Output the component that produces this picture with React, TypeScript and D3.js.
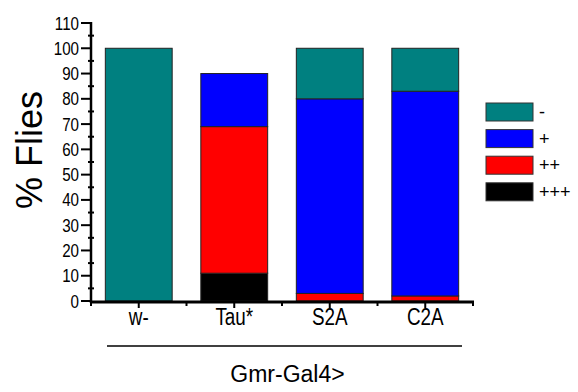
import * as d3 from "d3";
import { useEffect, useRef } from "react";

const categories = ["w-", "Tau*", "S2A", "C2A"];
const minus = [100, 0, 20, 17];
const plus = [0, 21, 77, 81];
const plus2 = [0, 58, 3, 2];
const plus3 = [0, 11, 0, 0];
const yTicks = [0, 10, 20, 30, 40, 50, 60, 70, 80, 90, 100, 110];

// legend order top -> bottom
const legendKeys = ["-", "+", "++", "+++"];
const colors: Record<string, string> = {
  "-": "#008080",
  "+": "#0000ff",
  "++": "#ff0000",
  "+++": "#000000",
};

const W = 578;
const H = 392;
const FONT = "'Liberation Sans', Arial, Helvetica, sans-serif";
const NARROW = 0.82;

const App = () => {
  const ref = useRef<SVGSVGElement | null>(null);

  useEffect(() => {
    const svg = d3.select(ref.current);
    svg.selectAll("*").remove();

    const rows = categories.map((c, i) => ({
      cat: c,
      "-": minus[i],
      "+": plus[i],
      "++": plus2[i],
      "+++": plus3[i],
    }));
    const stackKeys = ["+++", "++", "+", "-"];
    const series = d3.stack<any>().keys(stackKeys)(rows);

    const x = d3.scaleBand().domain(categories).range([91, 473])
      .paddingInner(0.3).paddingOuter(0.15);
    const y = d3.scaleLinear().domain([0, 110]).range([301, 23]);

    // bars
    series.forEach((s) => {
      svg.append("g")
        .selectAll("rect")
        .data(s.filter((d) => d[1] - d[0] > 0))
        .enter()
        .append("rect")
        .attr("x", (d) => x(d.data.cat)!)
        .attr("y", (d) => y(d[1]))
        .attr("width", x.bandwidth())
        .attr("height", (d) => y(d[0]) - y(d[1]))
        .attr("fill", colors[s.key])
        .attr("stroke", "#222")
        .attr("stroke-width", 1);
    });

    // y axis
    svg.append("line")
      .attr("x1", 91).attr("x2", 91)
      .attr("y1", y(110) - 1).attr("y2", y(0) + 2)
      .attr("stroke", "#000").attr("stroke-width", 2.5);
    d3.range(0, 111, 5).forEach((v) => {
      const major = v % 10 === 0;
      svg.append("line")
        .attr("x1", major ? 81 : 88).attr("x2", major ? 91 : 94)
        .attr("y1", y(v)).attr("y2", y(v))
        .attr("stroke", "#000").attr("stroke-width", 2);
    });
    yTicks.forEach((v) => {
      svg.append("g")
        .attr("transform", `translate(79,${y(v) + 6.5}) scale(${NARROW},1)`)
        .append("text")
        .attr("text-anchor", "end")
        .attr("font-family", FONT)
        .attr("font-size", 18.5)
        .text(v);
    });

    // x axis
    svg.append("line")
      .attr("x1", 90).attr("x2", 474)
      .attr("y1", 302).attr("y2", 302)
      .attr("stroke", "#000").attr("stroke-width", 3);
    const step = x.step();
    categories.forEach((c, i) => {
      const bx = 91 + i * step;
      svg.append("line")
        .attr("x1", bx).attr("x2", bx).attr("y1", 302).attr("y2", 306)
        .attr("stroke", "#000").attr("stroke-width", 2);
      const cx = x(c)! + x.bandwidth() / 2;
      svg.append("line")
        .attr("x1", cx).attr("x2", cx).attr("y1", 302).attr("y2", 308)
        .attr("stroke", "#000").attr("stroke-width", 2);
      svg.append("g")
        .attr("transform", `translate(${cx},325) scale(${NARROW},1)`)
        .append("text")
        .attr("text-anchor", "middle")
        .attr("font-family", FONT)
        .attr("font-size", 23)
        .text(c);
    });
    svg.append("line")
      .attr("x1", 473).attr("x2", 473).attr("y1", 302).attr("y2", 306)
      .attr("stroke", "#000").attr("stroke-width", 2);

    // group line + title
    svg.append("line")
      .attr("x1", 107).attr("x2", 462)
      .attr("y1", 346).attr("y2", 346)
      .attr("stroke", "#000").attr("stroke-width", 1.5);
    svg.append("text")
      .attr("x", 287.5).attr("y", 382)
      .attr("text-anchor", "middle")
      .attr("font-family", FONT)
      .attr("font-size", 23)
      .text("Gmr-Gal4>");

    // y label
    svg.append("text")
      .attr("transform", "translate(42,150) rotate(-90)")
      .attr("text-anchor", "middle")
      .attr("font-family", FONT)
      .attr("font-size", 36)
      .text("% Flies");

    // legend
    const lg = svg.append("g");
    legendKeys.forEach((k, i) => {
      const ly = 103 + i * 26.6;
      lg.append("rect")
        .attr("x", 486).attr("y", ly)
        .attr("width", 47).attr("height", 18)
        .attr("fill", colors[k])
        .attr("stroke", "#333").attr("stroke-width", 1);
      lg.append("text")
        .attr("x", 539).attr("y", ly + 15)
        .attr("font-family", FONT)
        .attr("font-size", 18)
        .text(k);
    });
  }, []);

  return (
    <svg
      ref={ref}
      width={W}
      height={H}
      style={{ position: "absolute", left: 0, top: 0, background: "#fff" }}
    ></svg>
  );
};

export default App;
